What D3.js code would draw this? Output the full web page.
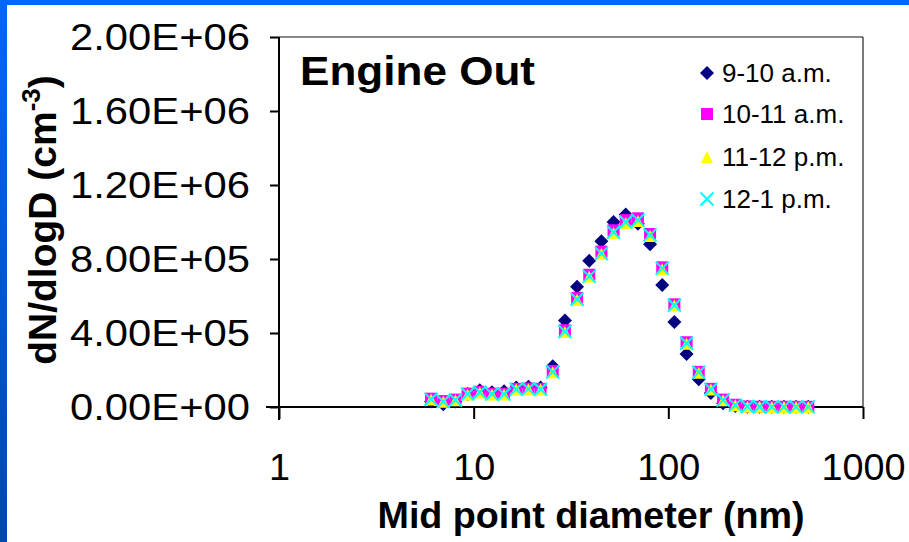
<!DOCTYPE html>
<html><head><meta charset="utf-8">
<script src="https://cdn.jsdelivr.net/npm/d3@7"></script>
<style>body{margin:0;background:#fff}svg{display:block}</style>
</head><body>
<svg id="chart" width="909" height="542"></svg>
<script>
// ---- data ----
const diameters = [6.04, 6.98, 8.06, 9.31, 10.75, 12.41, 14.33, 16.55, 19.11, 22.07, 25.48, 29.43, 33.98, 39.24, 45.31, 52.32, 60.42, 69.77, 80.56, 93.03, 107.4, 124.1, 143.3, 165.4, 191.1, 220.7, 254.8, 294.3, 339.8, 392.4, 453.1, 523.3];
const s910 = [30000, 15000, 30000, 70000, 90000, 80000, 85000, 105000, 110000, 105000, 220000, 468000, 650000, 790000, 896000, 1000000, 1040000, 990000, 880000, 660000, 460000, 287000, 150000, 76000, 20000, 5000, 2000, 1000, 1000, 1000, 1000, 1000];
const s1011 = [45000, 32000, 40000, 72000, 82000, 72000, 72000, 98000, 100000, 98000, 195000, 415000, 590000, 715000, 840000, 955000, 1010000, 1020000, 935000, 755000, 555000, 350000, 190000, 98000, 40000, 12000, 3000, 1500, 1000, 1000, 1000, 1000];
const s1112 = [40000, 28000, 36000, 68000, 78000, 68000, 68000, 94000, 96000, 94000, 188000, 405000, 580000, 705000, 828000, 940000, 995000, 1005000, 925000, 745000, 548000, 342000, 185000, 94000, 36000, 9000, 2000, 1000, 500, 500, 500, 500];
const s121 = [42000, 30000, 38000, 70000, 80000, 70000, 70000, 96000, 98000, 96000, 190000, 408000, 582000, 706000, 830000, 945000, 1000000, 1010000, 930000, 750000, 550000, 345000, 188000, 96000, 38000, 10000, 2500, 1000, 800, 800, 800, 800];
const seriesNames = ["9-10 a.m.", "10-11 a.m.", "11-12 p.m.", "12-1 p.m."];
const xTicks = [1, 10, 100, 1000];
const yTicks = [0, 400000, 800000, 1200000, 1600000, 2000000];
const chartTitle = "Engine Out";
const xTitle = "Mid point diameter (nm)";

// ---- layout ----
const svg = d3.select("#chart");
const L = 279, R = 863, T = 37, B = 407;
const x = d3.scaleLog().domain([1, 1000]).range([L, R]);
const y = d3.scaleLinear().domain([0, 2000000]).range([B, T]);

// background frame
const defs = svg.append("defs");
const g = defs.append("linearGradient").attr("id", "lb").attr("x1", 0).attr("y1", 0).attr("x2", 0).attr("y2", 1);
g.append("stop").attr("offset", "0%").attr("stop-color", "#0066ff");
g.append("stop").attr("offset", "100%").attr("stop-color", "#0046b0");
svg.append("rect").attr("width", 909).attr("height", 542).attr("fill", "#fff");
svg.append("rect").attr("x", 0).attr("y", 0).attr("width", 909).attr("height", 5).attr("fill", "#0066ff");
svg.append("rect").attr("x", 0).attr("y", 0).attr("width", 7).attr("height", 542).attr("fill", "url(#lb)");

// plot border
svg.append("line").attr("x1", L).attr("x2", R).attr("y1", T).attr("y2", T).attr("stroke", "#888").attr("stroke-width", 2);
svg.append("line").attr("x1", R).attr("x2", R).attr("y1", T).attr("y2", B).attr("stroke", "#222").attr("stroke-width", 1.2);

const font = "Liberation Sans, Arial, sans-serif";
function fmtE(v) {
  const s = v.toExponential(2).toUpperCase();
  const m = s.match(/^(.*)E([+-])(\d+)$/);
  return m[1] + "E" + m[2] + m[3].padStart(2, "0");
}

// y axis
const yAxis = d3.axisLeft(y).tickValues(yTicks).tickFormat(fmtE).tickSize(9).tickPadding(20);
const ya = svg.append("g").attr("transform", `translate(${L},0)`).call(yAxis);
ya.select(".domain").attr("stroke", "#000").attr("stroke-width", 2).attr("d", `M0,${B + 13}V${T}`);
ya.selectAll(".tick line").attr("stroke", "#000").attr("stroke-width", 2);
ya.selectAll(".tick text").attr("font-family", font).attr("font-size", 36).attr("fill", "#000")
  .attr("x", 250 - L).attr("dy", "0.36em").attr("textLength", 180).attr("lengthAdjust", "spacingAndGlyphs");

// x axis
const xAxis = d3.axisBottom(x).tickValues(xTicks).tickFormat(d3.format("d")).tickSize(12).tickPadding(24);
const xa = svg.append("g").attr("transform", `translate(0,${B})`).call(xAxis);
xa.select(".domain").attr("stroke", "#000").attr("stroke-width", 2).attr("d", `M${L - 13},0H${R}`);
xa.selectAll(".tick line").attr("stroke", "#000").attr("stroke-width", 2);
xa.selectAll(".tick text").attr("font-family", font).attr("font-size", 36).attr("fill", "#000")
  .attr("y", 60).attr("dy", "0.36em")
  .each(function () { const w = this.getComputedTextLength(); d3.select(this).attr("textLength", w * 1.05).attr("lengthAdjust", "spacingAndGlyphs"); });

// axis titles
svg.append("text").attr("x", 591).attr("y", 528).attr("text-anchor", "middle")
  .attr("font-family", font).attr("font-weight", "bold").attr("font-size", 36).text(xTitle)
  .attr("textLength", 427).attr("lengthAdjust", "spacingAndGlyphs");
const yt = svg.append("text").attr("transform", "translate(56,220) rotate(-90)").attr("text-anchor", "middle")
  .attr("font-family", font).attr("font-weight", "bold").attr("font-size", 39);
yt.append("tspan").text("dN/dlogD (cm");
yt.append("tspan").attr("font-size", 26).attr("dy", -16).text("-3");
yt.append("tspan").attr("dy", 16).text(")");

// chart title
svg.append("text").attr("x", 300).attr("y", 85).attr("font-family", font).attr("font-weight", "bold")
  .attr("font-size", 40).text(chartTitle).attr("textLength", 235).attr("lengthAdjust", "spacingAndGlyphs");

// markers
const shapes = {
  diamond: (cx, cy, s) => `M${cx},${cy - s}L${cx + s},${cy}L${cx},${cy + s}L${cx - s},${cy}Z`,
  square: (cx, cy, s) => `M${cx - s},${cy - s}H${cx + s}V${cy + s}H${cx - s}Z`,
  triangle: (cx, cy, s) => `M${cx},${cy - s}L${cx + s},${cy + s}L${cx - s},${cy + s}Z`,
  cross: (cx, cy, s) => `M${cx - s},${cy - s}L${cx + s},${cy + s}M${cx + s},${cy - s}L${cx - s},${cy + s}`
};
const series = [
  { name: seriesNames[0], vals: s910, shape: "diamond", size: 7, fill: "#000080", stroke: "none" },
  { name: seriesNames[1], vals: s1011, shape: "square", size: 6, fill: "#ff00ff", stroke: "none" },
  { name: seriesNames[2], vals: s1112, shape: "triangle", size: 6, fill: "#ffff00", stroke: "none" },
  { name: seriesNames[3], vals: s121, shape: "cross", size: 6.5, fill: "none", stroke: "#00ffff" }
];
series.forEach(s => {
  svg.append("g").selectAll("path").data(diameters.map((d, i) => [d, s.vals[i]])).join("path")
    .attr("d", d => shapes[s.shape](x(d[0]), y(d[1]), s.size))
    .attr("fill", s.fill).attr("stroke", s.stroke).attr("stroke-width", 2);
});

// legend
const legY = [73, 114, 157, 199];
series.forEach((s, i) => {
  svg.append("path").attr("d", shapes[s.shape](707, legY[i], s.size))
    .attr("fill", s.fill).attr("stroke", s.stroke).attr("stroke-width", 2);
  svg.append("text").attr("x", 722).attr("y", legY[i]).attr("dy", "0.36em")
    .attr("font-family", font).attr("font-size", 26).text(s.name);
});
</script>
</body></html>
